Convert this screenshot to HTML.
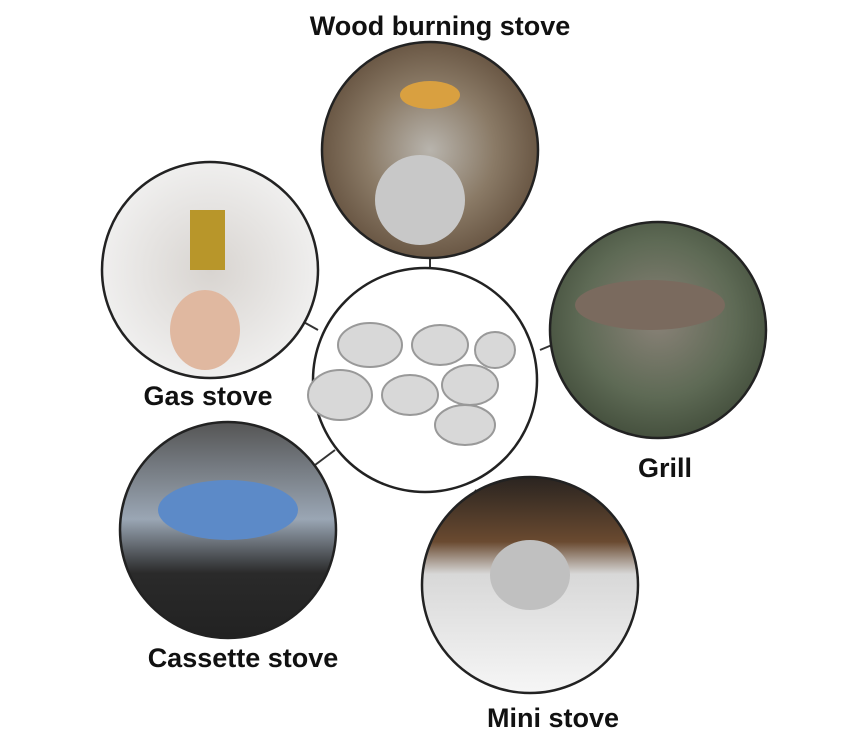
<!DOCTYPE html>
<html><head><meta charset="utf-8"><style>
html,body{margin:0;padding:0;background:#fff;}
svg{display:block}
text{font-family:"Liberation Sans",sans-serif;font-weight:bold;font-size:27px;fill:#111;text-anchor:middle}
</style></head><body>
<svg width="860" height="750" viewBox="0 0 860 750" xmlns="http://www.w3.org/2000/svg">
<defs>
<radialGradient id="wood" cx="50%" cy="50%" r="60%"><stop offset="0" stop-color="#b8b4ad"/><stop offset="0.5" stop-color="#8a7a66"/><stop offset="1" stop-color="#5a4634"/></radialGradient>
<radialGradient id="gas" cx="50%" cy="50%" r="60%"><stop offset="0" stop-color="#d8d4d0"/><stop offset="1" stop-color="#f4f4f4"/></radialGradient>
<radialGradient id="grill" cx="50%" cy="45%" r="60%"><stop offset="0" stop-color="#8a8278"/><stop offset="0.6" stop-color="#5e6a55"/><stop offset="1" stop-color="#3f4a38"/></radialGradient>
<linearGradient id="cas" x1="0" y1="0" x2="0" y2="1"><stop offset="0" stop-color="#555"/><stop offset="0.45" stop-color="#9aa6b4"/><stop offset="0.7" stop-color="#2a2a2a"/><stop offset="1" stop-color="#222"/></linearGradient>
<linearGradient id="mini" x1="0" y1="0" x2="0" y2="1"><stop offset="0" stop-color="#2a2420"/><stop offset="0.3" stop-color="#6a4a30"/><stop offset="0.45" stop-color="#d8d8d8"/><stop offset="1" stop-color="#f6f6f6"/></linearGradient>
</defs>
<g stroke="#333" stroke-width="2">
<line x1="430" y1="268" x2="430" y2="258"/>
<line x1="318" y1="330" x2="300" y2="320"/>
<line x1="540" y1="350" x2="552" y2="345"/>
<line x1="335" y1="450" x2="315" y2="465"/>
<line x1="475" y1="490" x2="485" y2="500"/>
</g>
<g stroke="#222" stroke-width="2.5">
<circle cx="430" cy="150" r="108" fill="url(#wood)"/>
<circle cx="210" cy="270" r="108" fill="url(#gas)"/>
<circle cx="658" cy="330" r="108" fill="url(#grill)"/>
<circle cx="228" cy="530" r="108" fill="url(#cas)"/>
<circle cx="530" cy="585" r="108" fill="url(#mini)"/>
<circle cx="425" cy="380" r="112" fill="#fff"/>
</g>
<ellipse cx="420" cy="200" rx="45" ry="45" fill="#c8c8c8"/>
<ellipse cx="430" cy="95" rx="30" ry="14" fill="#d9a040"/>
<ellipse cx="205" cy="330" rx="35" ry="40" fill="#e0b8a0"/>
<rect x="190" y="210" width="35" height="60" fill="#b8962a"/>
<ellipse cx="228" cy="510" rx="70" ry="30" fill="#5c8ac8"/>
<ellipse cx="530" cy="575" rx="40" ry="35" fill="#c0c0c0"/>
<ellipse cx="650" cy="305" rx="75" ry="25" fill="#7a6a5e"/>
<g fill="#d8d8d8" stroke="#999" stroke-width="2">
<ellipse cx="370" cy="345" rx="32" ry="22"/>
<ellipse cx="440" cy="345" rx="28" ry="20"/>
<ellipse cx="495" cy="350" rx="20" ry="18"/>
<ellipse cx="340" cy="395" rx="32" ry="25"/>
<ellipse cx="410" cy="395" rx="28" ry="20"/>
<ellipse cx="470" cy="385" rx="28" ry="20"/>
<ellipse cx="465" cy="425" rx="30" ry="20"/>
</g>
<text x="440" y="35">Wood burning stove</text>
<text x="208" y="405">Gas stove</text>
<text x="665" y="477">Grill</text>
<text x="243" y="667">Cassette stove</text>
<text x="553" y="727">Mini stove</text>
</svg>
</body></html>
